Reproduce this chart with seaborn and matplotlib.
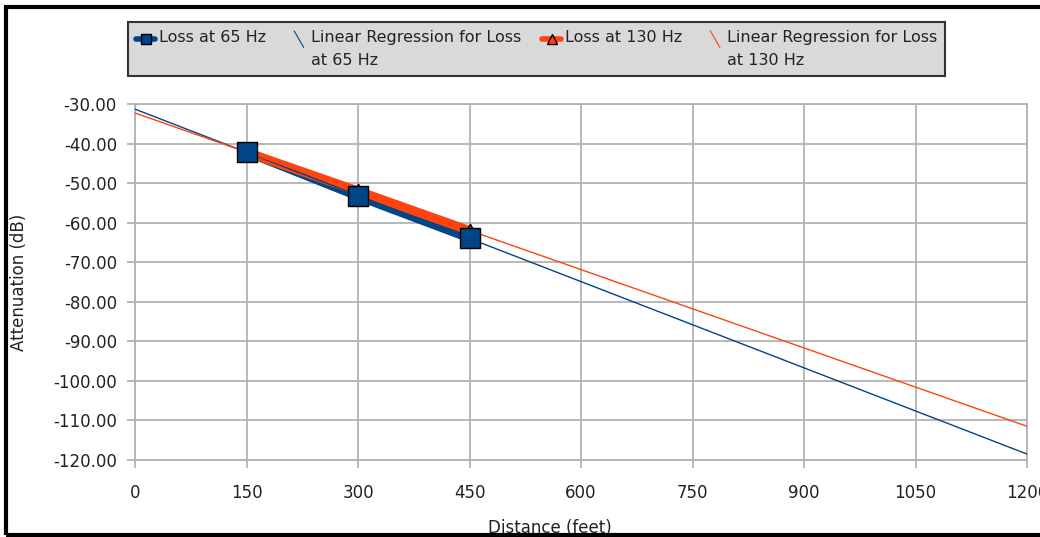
import numpy as np
import pandas as pd
import matplotlib
matplotlib.use('Agg')
import matplotlib.pyplot as plt
from matplotlib.lines import Line2D
from matplotlib.patches import Rectangle
from matplotlib.legend_handler import HandlerLine2D, HandlerBase
import seaborn as sns

# data
distance = [150, 300, 450]
loss_65 = [-42.1, -53.3, -63.9]
loss_130 = [-42.2, -52.0, -62.0]
x_ticks = [0, 150, 300, 450, 600, 750, 900, 1050, 1200]
y_ticks = [-120, -110, -100, -90, -80, -70, -60, -50, -40, -30]

blue = '#004586'
orange = '#ff420e'

sns.set_theme(style='white')
plt.rcParams['font.family'] = ['DejaVu Sans']
plt.rcParams['axes.unicode_minus'] = False

df65 = pd.DataFrame({'x': distance, 'y': loss_65})
df130 = pd.DataFrame({'x': distance, 'y': loss_130})

# linear regression over the full distance range
x_fit = np.array([x_ticks[0], x_ticks[-1]])
fit65 = np.polyfit(distance, loss_65, 1)
fit130 = np.polyfit(distance, loss_130, 1)
reg65 = pd.DataFrame({'x': x_fit, 'y': np.polyval(fit65, x_fit)})
reg130 = pd.DataFrame({'x': x_fit, 'y': np.polyval(fit130, x_fit)})

fig = plt.figure(figsize=(10.4, 5.37), dpi=100)
ax = fig.add_axes([135/1040, 1-460/537, (1027-135)/1040, (460-104)/537])

# thick data lines
sns.lineplot(data=df65, x='x', y='y', ax=ax, color=blue, lw=6.5, zorder=3)
sns.lineplot(data=df130, x='x', y='y', ax=ax, color=orange, lw=6.5, zorder=3.1)
# thin regression lines
sns.lineplot(data=reg65, x='x', y='y', ax=ax, color=blue, lw=1, zorder=4)
sns.lineplot(data=reg130, x='x', y='y', ax=ax, color=orange, lw=1, zorder=4)
# markers
sns.scatterplot(data=df130, x='x', y='y', ax=ax, color=orange, marker='^', s=110,
                edgecolor='black', linewidth=1, zorder=5)
sns.scatterplot(data=df65, x='x', y='y', ax=ax, color=blue, marker='s', s=190,
                edgecolor='black', linewidth=1, zorder=6)

ax.set_xlim(0, 1200)
ax.set_ylim(-120, -30)
ax.set_xticks(x_ticks)
ax.set_xticklabels([str(t) for t in x_ticks])
ax.set_yticks(y_ticks)
ax.set_yticklabels(['%.2f' % t for t in y_ticks])
ax.grid(True, color='#b3b3b3', lw=1.3)
ax.set_axisbelow(True)
for s in ax.spines.values():
    s.set_color('#b3b3b3')
    s.set_linewidth(1.3)
ax.tick_params(axis='both', length=6, color='#b3b3b3', width=1.3, labelsize=12,
               labelcolor='#222222', direction='out', left=True, bottom=True)
ax.tick_params(axis='y', pad=7)
ax.tick_params(axis='x', pad=11)
ax.set_xlabel('Distance (feet)', fontsize=12, color='#222222')
ax.set_ylabel('Attenuation (dB)', fontsize=12, color='#222222')
ax.xaxis.set_label_coords(0.465, -0.165)
ax.yaxis.set_label_coords(-0.12, 0.5)


# legend symbols sit level with the first line of text
class TopLine(HandlerLine2D):
    def create_artists(self, legend, orig_handle, xdescent, ydescent, width, height, fontsize, trans):
        return super().create_artists(legend, orig_handle, xdescent, ydescent - 15,
                                      width, height, fontsize, trans)


# regression symbol is a short slanted stroke
class SlantLine(HandlerBase):
    def create_artists(self, legend, orig_handle, xdescent, ydescent, width, height, fontsize, trans):
        x0 = -xdescent + width * 0.35
        x1 = -xdescent + width * 0.85
        yc = (height - ydescent) / 2 + 7.5
        line = Line2D([x0, x1], [yc + 6, yc - 6], color=orig_handle.get_color(), lw=0.8)
        line.set_transform(trans)
        return [line]


h65 = Line2D([], [], color=blue, lw=4, marker='s', markersize=7, markeredgecolor='black')
r65 = Line2D([], [], color=blue, lw=0.8)
h130 = Line2D([], [], color=orange, lw=4, marker='^', markersize=7, markeredgecolor='black')
r130 = Line2D([], [], color=orange, lw=0.8)
labels = ['Loss at 65 Hz\n ', 'Linear Regression for Loss\nat 65 Hz',
          'Loss at 130 Hz\n ', 'Linear Regression for Loss\nat 130 Hz']
leg = fig.legend([h65, r65, h130, r130], labels, loc='upper left', ncol=4, mode='expand',
                 bbox_to_anchor=(128/1040, 1-82/537, (945-128)/1040, 60/537),
                 bbox_transform=fig.transFigure, borderaxespad=0, fontsize=11.5,
                 fancybox=False, framealpha=1, handlelength=1.2, handletextpad=0.25,
                 columnspacing=0.3, borderpad=0.5,
                 handler_map={h65: TopLine(), h130: TopLine(),
                              r65: SlantLine(), r130: SlantLine()})
leg.get_frame().set_facecolor('#d9d9d9')
leg.get_frame().set_edgecolor('#333333')
leg.get_frame().set_linewidth(1.5)
for t in leg.get_texts():
    t.set_linespacing(1.7)
    t.set_color('#222222')

# black frame round the figure (open at right)
fig.add_artist(Rectangle((6/1040, 2/537), 1.1, 1-9/537, transform=fig.transFigure,
                         fill=False, edgecolor='black', lw=3, clip_on=False))

fig.savefig('out.png', dpi=100)
